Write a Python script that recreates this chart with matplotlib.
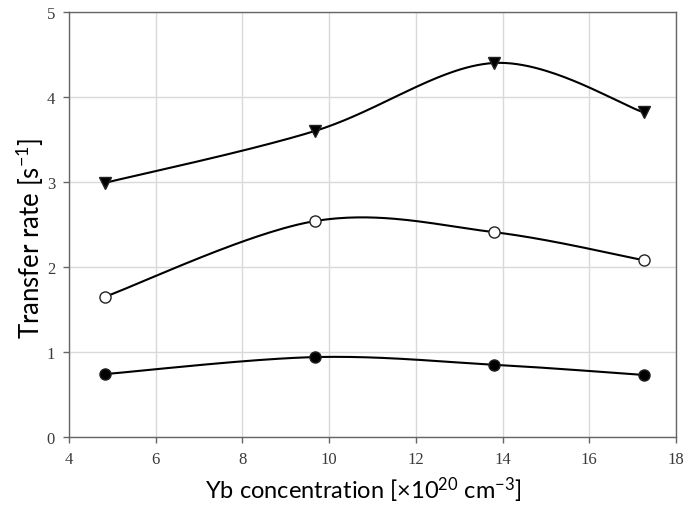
import numpy as np
import matplotlib
matplotlib.use("Agg")
import matplotlib.pyplot as plt

plt.rcParams['mathtext.default'] = 'regular'

# Yb concentration (x 10^20 cm^-3)
concentration = [4.83, 9.67, 13.8, 17.25]
# Transfer rates (s^-1) for three series
rate_triangle = [2.99, 3.60, 4.40, 3.82]
rate_open = [1.65, 2.54, 2.41, 2.08]
rate_filled = [0.74, 0.94, 0.85, 0.73]

x_ticks = [4, 6, 8, 10, 12, 14, 16, 18]
y_ticks = [0, 1, 2, 3, 4, 5]


def smooth(xs, ys, n=60):
    """Catmull-Rom style cubic Bezier through the points."""
    p = np.column_stack([xs, ys]).astype(float)
    out = []
    for i in range(len(p) - 1):
        p0 = p[i - 1] if i > 0 else p[i]
        p1, p2 = p[i], p[i + 1]
        p3 = p[i + 2] if i + 2 < len(p) else p[i + 1]
        c1 = p1 + (p2 - p0) / 6.0
        c2 = p2 - (p3 - p1) / 6.0
        t = np.linspace(0, 1, n)[:, None]
        seg = ((1 - t) ** 3) * p1 + 3 * ((1 - t) ** 2) * t * c1 + 3 * (1 - t) * t ** 2 * c2 + t ** 3 * p2
        out.append(seg if i == 0 else seg[1:])
    s = np.vstack(out)
    return s[:, 0], s[:, 1]


fig = plt.figure(figsize=(6.88, 5.10), dpi=100)
ax = fig.add_axes([0.1003, 0.1412, 0.8823, 0.8333])

for ys, marker, face in [(rate_triangle, 'v', 'black'),
                         (rate_open, 'o', 'white'),
                         (rate_filled, 'o', 'black')]:
    sx, sy = smooth(concentration, ys)
    ax.plot(sx, sy, color='black', lw=1.5, zorder=3)
    ax.plot(concentration, ys, linestyle='none', marker=marker,
            markersize=9 if marker == 'v' else 8, markerfacecolor=face,
            markeredgecolor='#222222', markeredgewidth=1.0, zorder=4)

ax.set_xlim(4, 18)
ax.set_ylim(0, 5)
ax.set_xticks(x_ticks)
ax.set_yticks(y_ticks)
ax.grid(True, color='#d9d9d9', lw=1.0, zorder=0)
ax.set_axisbelow(True)

for s in ax.spines.values():
    s.set_color('#666666')
    s.set_linewidth(1.0)

ax.tick_params(direction='out', length=4, width=1, color='#666666',
               labelcolor='#3a3a3a', labelsize=12, pad=6)
for lbl in ax.get_xticklabels() + ax.get_yticklabels():
    lbl.set_family('Liberation Serif')

ax.set_xlabel(r'Yb concentration [$\times$10$^{20}$ cm$^{-3}$]',
              family='Lato', fontsize=17, va='center')
ax.xaxis.set_label_coords(0.484, -0.122)
ax.set_ylabel(r'Transfer rate [s$^{-1}$]', family='Lato', fontsize=18.5,
              va='center')
ax.yaxis.set_label_coords(-0.064, 0.47)

fig.savefig('out.png', dpi=100)
